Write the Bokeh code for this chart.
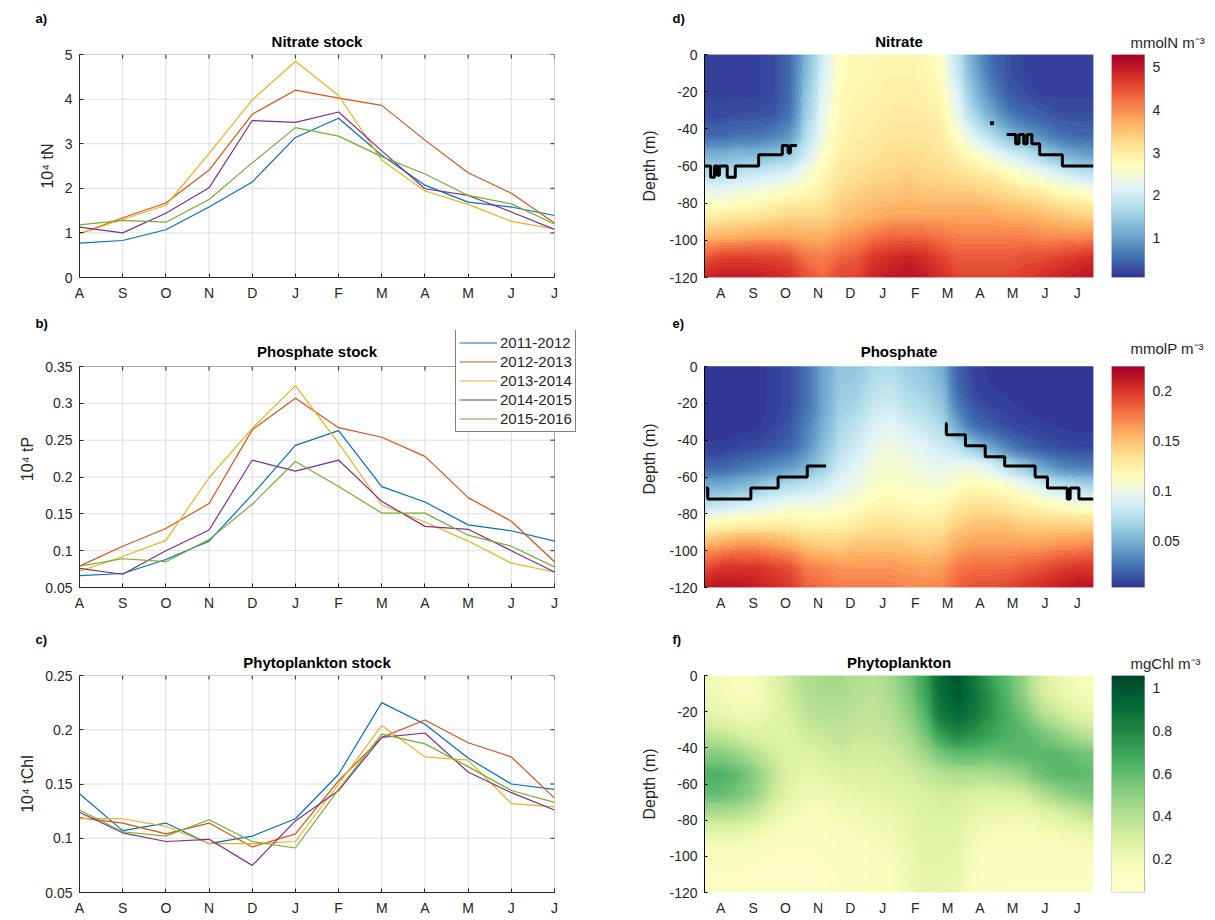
import numpy as np
from bokeh.plotting import figure
from bokeh.layouts import column, row
from bokeh.core.properties import value
from bokeh.models import (Range1d, FixedTicker, Title, Legend, LegendItem, Label, BoxAnnotation,
                          LinearColorMapper, NumeralTickFormatter)
from bokeh.embed import file_html
from bokeh.resources import INLINE

# ---------------- data ----------------
months = ["A", "S", "O", "N", "D", "J", "F", "M", "A", "M", "J", "J"]
seasons = ["2011-2012", "2012-2013", "2013-2014", "2014-2015", "2015-2016"]

# Nitrate stock (10^4 tN)
no3_2011 = [0.77, 0.83, 1.07, 1.58, 2.14, 3.14, 3.57, 2.74, 2.07, 1.69, 1.58, 1.39]
no3_2012 = [0.98, 1.34, 1.67, 2.41, 3.66, 4.20, 4.02, 3.86, 3.08, 2.35, 1.89, 1.22]
no3_2013 = [0.98, 1.30, 1.62, 2.78, 3.98, 4.85, 4.08, 2.63, 1.94, 1.64, 1.26, 1.09]
no3_2014 = [1.13, 1.00, 1.44, 2.01, 3.52, 3.48, 3.71, 2.84, 1.99, 1.84, 1.47, 1.08]
no3_2015 = [1.18, 1.28, 1.24, 1.75, 2.57, 3.36, 3.17, 2.71, 2.32, 1.84, 1.65, 1.20]

# Phosphate stock (10^4 tP)
po4_2011 = [0.066, 0.069, 0.088, 0.113, 0.176, 0.243, 0.263, 0.187, 0.166, 0.135, 0.127, 0.113]
po4_2012 = [0.079, 0.106, 0.130, 0.164, 0.264, 0.307, 0.267, 0.254, 0.228, 0.172, 0.140, 0.085]
po4_2013 = [0.072, 0.092, 0.114, 0.199, 0.266, 0.324, 0.246, 0.162, 0.139, 0.113, 0.083, 0.071]
po4_2014 = [0.076, 0.068, 0.100, 0.128, 0.223, 0.208, 0.223, 0.167, 0.133, 0.129, 0.100, 0.071]
po4_2015 = [0.079, 0.089, 0.085, 0.115, 0.163, 0.221, 0.187, 0.151, 0.151, 0.121, 0.106, 0.078]

# Phytoplankton stock (10^4 tChl)
chl_2011 = [0.141, 0.107, 0.114, 0.095, 0.102, 0.118, 0.159, 0.225, 0.205, 0.174, 0.150, 0.145]
chl_2012 = [0.119, 0.114, 0.104, 0.114, 0.092, 0.104, 0.153, 0.193, 0.209, 0.188, 0.175, 0.137]
chl_2013 = [0.118, 0.118, 0.111, 0.095, 0.095, 0.097, 0.150, 0.204, 0.175, 0.172, 0.132, 0.129]
chl_2014 = [0.124, 0.105, 0.097, 0.099, 0.075, 0.116, 0.144, 0.193, 0.197, 0.161, 0.142, 0.126]
chl_2015 = [0.126, 0.106, 0.102, 0.117, 0.097, 0.091, 0.145, 0.196, 0.187, 0.166, 0.144, 0.133]

# Depth-time fields: 24 half-month columns (Aug..Jul), each 12 depth values (surface -> -120 m)
no3_field = [
    [0.2, 0.2, 0.2, 0.25, 0.5, 1.2, 1.8, 2.4, 3.0, 3.6, 4.4, 4.9],
    [0.2, 0.2, 0.2, 0.25, 0.5, 1.2, 1.8, 2.4, 3.0, 3.7, 4.6, 5.0],
    [0.2, 0.2, 0.2, 0.3, 0.6, 1.3, 1.9, 2.5, 3.1, 3.7, 4.6, 5.0],
    [0.2, 0.2, 0.2, 0.3, 0.6, 1.3, 2.0, 2.6, 3.1, 3.8, 4.6, 5.0],
    [0.25, 0.25, 0.25, 0.35, 0.7, 1.4, 2.1, 2.7, 3.2, 3.8, 4.6, 4.9],
    [0.5, 0.5, 0.5, 0.6, 0.9, 1.5, 2.2, 2.8, 3.3, 3.8, 4.5, 4.8],
    [1.2, 1.3, 1.4, 1.5, 1.7, 2.0, 2.5, 2.9, 3.3, 3.7, 4.2, 4.5],
    [2.0, 2.1, 2.2, 2.3, 2.4, 2.6, 2.8, 3.0, 3.3, 3.7, 4.1, 4.3],
    [2.7, 2.7, 2.75, 2.8, 2.85, 2.95, 3.1, 3.3, 3.5, 3.9, 4.3, 4.6],
    [2.8, 2.8, 2.85, 2.9, 2.95, 3.05, 3.2, 3.4, 3.6, 4.0, 4.4, 4.6],
    [2.8, 2.85, 2.9, 2.95, 3.0, 3.1, 3.3, 3.5, 3.7, 4.2, 4.7, 4.9],
    [2.85, 2.9, 2.95, 3.0, 3.1, 3.2, 3.3, 3.5, 3.8, 4.3, 4.8, 5.0],
    [2.85, 2.9, 2.95, 3.0, 3.1, 3.25, 3.4, 3.6, 3.8, 4.3, 4.9, 5.1],
    [2.8, 2.85, 2.9, 3.0, 3.1, 3.2, 3.3, 3.5, 3.8, 4.3, 4.8, 5.0],
    [2.6, 2.7, 2.8, 2.9, 3.0, 3.1, 3.3, 3.5, 3.8, 4.2, 4.6, 4.8],
    [1.8, 1.9, 2.1, 2.3, 2.6, 2.9, 3.2, 3.5, 3.8, 4.1, 4.4, 4.6],
    [1.0, 1.1, 1.3, 1.6, 2.1, 2.7, 3.1, 3.5, 3.8, 4.1, 4.4, 4.6],
    [0.5, 0.6, 0.8, 1.1, 1.7, 2.4, 3.0, 3.4, 3.8, 4.1, 4.4, 4.6],
    [0.3, 0.3, 0.4, 0.7, 1.3, 2.1, 2.8, 3.3, 3.7, 4.1, 4.4, 4.6],
    [0.2, 0.2, 0.3, 0.5, 1.0, 1.9, 2.6, 3.2, 3.7, 4.1, 4.5, 4.7],
    [0.2, 0.2, 0.2, 0.4, 0.8, 1.6, 2.4, 3.1, 3.6, 4.0, 4.5, 4.8],
    [0.2, 0.2, 0.2, 0.3, 0.6, 1.3, 2.2, 2.9, 3.5, 4.0, 4.6, 4.9],
    [0.2, 0.2, 0.2, 0.3, 0.5, 1.1, 2.0, 2.8, 3.4, 4.0, 4.7, 5.0],
    [0.2, 0.2, 0.2, 0.3, 0.5, 1.0, 1.9, 2.7, 3.3, 4.0, 4.8, 5.1],
]
po4_field = [
    [0.005, 0.005, 0.005, 0.005, 0.008, 0.020, 0.050, 0.080, 0.120, 0.160, 0.190, 0.210],
    [0.005, 0.005, 0.005, 0.005, 0.008, 0.020, 0.050, 0.085, 0.125, 0.165, 0.200, 0.215],
    [0.005, 0.005, 0.005, 0.005, 0.010, 0.025, 0.055, 0.090, 0.130, 0.170, 0.200, 0.215],
    [0.005, 0.005, 0.005, 0.006, 0.012, 0.030, 0.060, 0.095, 0.130, 0.170, 0.200, 0.210],
    [0.008, 0.008, 0.008, 0.010, 0.015, 0.035, 0.070, 0.100, 0.130, 0.165, 0.195, 0.205],
    [0.012, 0.012, 0.012, 0.015, 0.020, 0.040, 0.075, 0.105, 0.130, 0.160, 0.190, 0.200],
    [0.025, 0.025, 0.025, 0.030, 0.035, 0.050, 0.080, 0.105, 0.125, 0.150, 0.175, 0.185],
    [0.045, 0.045, 0.045, 0.050, 0.055, 0.065, 0.085, 0.105, 0.125, 0.145, 0.170, 0.180],
    [0.060, 0.062, 0.065, 0.070, 0.075, 0.085, 0.095, 0.110, 0.125, 0.145, 0.165, 0.175],
    [0.060, 0.065, 0.070, 0.078, 0.085, 0.093, 0.100, 0.115, 0.130, 0.150, 0.165, 0.175],
    [0.070, 0.075, 0.082, 0.090, 0.097, 0.105, 0.110, 0.120, 0.135, 0.150, 0.165, 0.175],
    [0.072, 0.078, 0.085, 0.095, 0.102, 0.108, 0.113, 0.122, 0.135, 0.150, 0.165, 0.175],
    [0.065, 0.070, 0.077, 0.088, 0.097, 0.105, 0.110, 0.120, 0.133, 0.148, 0.163, 0.172],
    [0.060, 0.065, 0.072, 0.082, 0.092, 0.100, 0.108, 0.118, 0.130, 0.145, 0.160, 0.170],
    [0.050, 0.055, 0.062, 0.072, 0.085, 0.097, 0.107, 0.120, 0.133, 0.148, 0.163, 0.172],
    [0.020, 0.022, 0.030, 0.045, 0.075, 0.100, 0.115, 0.130, 0.145, 0.160, 0.175, 0.185],
    [0.008, 0.010, 0.015, 0.025, 0.060, 0.100, 0.120, 0.135, 0.150, 0.165, 0.180, 0.190],
    [0.006, 0.007, 0.010, 0.018, 0.045, 0.090, 0.115, 0.135, 0.150, 0.165, 0.180, 0.190],
    [0.005, 0.006, 0.008, 0.012, 0.030, 0.075, 0.110, 0.130, 0.150, 0.165, 0.180, 0.195],
    [0.005, 0.005, 0.006, 0.010, 0.020, 0.060, 0.100, 0.125, 0.145, 0.165, 0.185, 0.200],
    [0.005, 0.005, 0.005, 0.008, 0.015, 0.045, 0.090, 0.120, 0.145, 0.165, 0.190, 0.205],
    [0.005, 0.005, 0.005, 0.007, 0.012, 0.035, 0.080, 0.115, 0.145, 0.170, 0.195, 0.210],
    [0.005, 0.005, 0.005, 0.006, 0.010, 0.030, 0.075, 0.110, 0.145, 0.170, 0.200, 0.215],
    [0.005, 0.005, 0.005, 0.006, 0.010, 0.030, 0.070, 0.110, 0.145, 0.175, 0.200, 0.215],
]
chl_field = [
    [0.20, 0.21, 0.26, 0.38, 0.52, 0.65, 0.60, 0.42, 0.25, 0.16, 0.12, 0.10],
    [0.18, 0.19, 0.24, 0.36, 0.52, 0.65, 0.60, 0.42, 0.25, 0.16, 0.12, 0.10],
    [0.16, 0.17, 0.21, 0.32, 0.47, 0.60, 0.55, 0.40, 0.24, 0.15, 0.12, 0.10],
    [0.18, 0.17, 0.20, 0.28, 0.40, 0.50, 0.48, 0.35, 0.22, 0.14, 0.10, 0.09],
    [0.25, 0.25, 0.25, 0.28, 0.33, 0.38, 0.35, 0.26, 0.18, 0.12, 0.09, 0.08],
    [0.35, 0.33, 0.30, 0.28, 0.27, 0.28, 0.25, 0.20, 0.15, 0.11, 0.09, 0.08],
    [0.42, 0.40, 0.37, 0.33, 0.28, 0.24, 0.21, 0.17, 0.13, 0.11, 0.09, 0.08],
    [0.45, 0.43, 0.40, 0.35, 0.30, 0.25, 0.21, 0.17, 0.14, 0.12, 0.10, 0.09],
    [0.45, 0.43, 0.40, 0.37, 0.33, 0.28, 0.23, 0.19, 0.16, 0.14, 0.12, 0.11],
    [0.42, 0.40, 0.38, 0.35, 0.32, 0.28, 0.24, 0.20, 0.17, 0.15, 0.13, 0.12],
    [0.40, 0.38, 0.37, 0.35, 0.32, 0.29, 0.25, 0.22, 0.19, 0.17, 0.15, 0.14],
    [0.45, 0.43, 0.40, 0.37, 0.33, 0.30, 0.26, 0.23, 0.20, 0.18, 0.16, 0.15],
    [0.55, 0.52, 0.48, 0.43, 0.37, 0.32, 0.28, 0.25, 0.24, 0.22, 0.21, 0.20],
    [0.70, 0.68, 0.62, 0.55, 0.45, 0.36, 0.30, 0.28, 0.27, 0.26, 0.25, 0.24],
    [0.92, 0.90, 0.85, 0.72, 0.55, 0.40, 0.32, 0.29, 0.27, 0.26, 0.25, 0.24],
    [1.00, 0.98, 0.92, 0.80, 0.60, 0.42, 0.32, 0.28, 0.26, 0.25, 0.24, 0.23],
    [0.85, 0.88, 0.85, 0.75, 0.60, 0.42, 0.30, 0.24, 0.20, 0.17, 0.15, 0.13],
    [0.70, 0.75, 0.75, 0.70, 0.58, 0.42, 0.30, 0.22, 0.18, 0.15, 0.13, 0.12],
    [0.60, 0.62, 0.65, 0.65, 0.60, 0.45, 0.30, 0.22, 0.17, 0.14, 0.12, 0.11],
    [0.45, 0.48, 0.55, 0.62, 0.62, 0.50, 0.33, 0.22, 0.17, 0.14, 0.12, 0.11],
    [0.30, 0.32, 0.42, 0.55, 0.62, 0.58, 0.42, 0.27, 0.18, 0.14, 0.12, 0.11],
    [0.22, 0.25, 0.35, 0.50, 0.62, 0.62, 0.48, 0.30, 0.20, 0.15, 0.12, 0.11],
    [0.17, 0.20, 0.28, 0.42, 0.58, 0.62, 0.52, 0.35, 0.22, 0.15, 0.12, 0.11],
    [0.15, 0.18, 0.25, 0.38, 0.55, 0.60, 0.55, 0.40, 0.25, 0.17, 0.13, 0.11],
]

# Mixed-layer depth step lines (month index, depth m)
no3_mld1_x = [-0.5, -0.31, -0.19, -0.10, -0.04, 0.20, 0.45, 1.17, 1.90, 2.08, 2.15, 2.35]
no3_mld1_y = [-60, -66, -60, -65, -60, -66, -60, -54, -49, -53, -49, -49]
no3_mld2_x = [8.82, 9.10, 9.20, 9.35, 9.45, 9.60, 9.84, 10.54, 11.5]
no3_mld2_y = [-43, -48, -43, -48, -43, -48, -54, -60, -60]
no3_mld_dot_x = [8.37]
no3_mld_dot_y = [-37]
po4_mld1_x = [-0.45, -0.40, 0.93, 1.77, 2.67, 3.25]
po4_mld1_y = [-66, -72, -66, -60, -54, -54]
po4_mld2_x = [6.93, 6.96, 7.55, 8.16, 8.76, 9.70, 10.08, 10.69, 10.78, 11.05, 11.5]
po4_mld2_y = [-31, -37, -43, -49, -54, -60, -66, -72, -66, -72, -72]

# ticks
stock_no3_ticks = [0, 1, 2, 3, 4, 5]
stock_po4_ticks = [0.05, 0.1, 0.15, 0.2, 0.25, 0.3, 0.35]
stock_chl_ticks = [0.05, 0.1, 0.15, 0.2, 0.25]
depth_ticks = [-120, -100, -80, -60, -40, -20, 0]
cb_no3_ticks = [1, 2, 3, 4, 5]
cb_no3_labels = ["1", "2", "3", "4", "5"]
cb_po4_ticks = [0.05, 0.1, 0.15, 0.2]
cb_po4_labels = ["0.05", "0.1", "0.15", "0.2"]
cb_chl_ticks = [0.2, 0.4, 0.6, 0.8, 1]
cb_chl_labels = ["0.2", "0.4", "0.6", "0.8", "1"]
cb_no3_range = (0.07, 5.3)
cb_po4_range = (0.004, 0.224)
cb_chl_range = (0.044, 1.06)

# ---------------- style / layout ----------------
FONT = "Liberation Sans"
TXT = "#262626"
GRID = "#dedede"
COLORS = ["#0072BD", "#D95319", "#EDB120", "#7E2F8E", "#77AC30"]
ROW_H = [308, 310, 300]
TOP_B = [54, 22, 57]      # row 2 frames start higher so the legend can sit above the axes box
BOT_B = [31, 31, 21]
EXT = [0, 36, 0]          # px of blank frame above the axes box (row 2 only)
LEFT_W, RIGHT_W, CB_W = 612, 499, 103
CB_BAR = 33
TICK_PX = 4


def interp_cmap(anchors, n=256):
    rgb = np.array([[int(c[i:i + 2], 16) for i in (1, 3, 5)] for c in anchors], float)
    pos = np.linspace(0, 1, len(anchors))
    t = np.linspace(0, 1, n)
    out = []
    for v in t:
        r = [np.interp(v, pos, rgb[:, k]) for k in range(3)]
        out.append("#%02x%02x%02x" % tuple(int(round(x)) for x in r))
    return out


RDYLBU = interp_cmap(["#313695", "#4575b4", "#74add1", "#abd9e9", "#e0f3f8", "#ffffbf",
                      "#fee090", "#fdae61", "#f46d43", "#d73027", "#a50026"])
YLGN = interp_cmap(["#ffffcc", "#f7fcb9", "#d9f0a3", "#addd8e", "#78c679", "#41ab5d",
                    "#238443", "#006837", "#004529"])


def style_letter(p, offset, standoff=0):
    p.title.align = "left"
    p.title.offset = offset
    p.title.text_font = FONT
    p.title.text_font_size = "13px"
    p.title.text_font_style = "bold"
    p.title.text_color = "black"
    p.title.standoff = standoff


def add_main_title(p, i, text, x_center, y_top, px_unit):
    if EXT[i] == 0:
        p.add_layout(Title(text=text, align="center", text_font=FONT, text_font_size="15px",
                           text_font_style="bold", text_color="black", standoff=10), "above")
    else:
        p.add_layout(Label(x=x_center, y=y_top + 15 * px_unit, text=text, text_align="center",
                           text_baseline="middle", text_font=FONT, text_font_size="15px",
                           text_font_style="bold", text_color="black"))


def style_axes(p):
    for ax in p.axis:
        ax.axis_line_color = TXT
        ax.major_tick_line_color = TXT
        ax.major_tick_in = TICK_PX
        ax.major_tick_out = 0
        ax.minor_tick_line_color = None
        ax.major_label_text_font = FONT
        ax.major_label_text_font_size = "14px"
        ax.major_label_text_color = TXT
        ax.major_label_standoff = 7
        ax.axis_label_text_font = FONT
        ax.axis_label_text_font_size = "16px"
        ax.axis_label_text_font_style = "normal"
        ax.axis_label_text_color = TXT
        ax.axis_label_standoff = 6


def stock_panel(i, title, letter, ylabel, yr, yticks, series, right_ext=0):
    frame_h = ROW_H[i] - TOP_B[i] - BOT_B[i]
    box_h = frame_h - EXT[i]
    px_y = (yr[1] - yr[0]) / box_h
    px_x = 11.0 / 475.0
    y_top = yr[1] + EXT[i] * px_y
    x_right = 11 + right_ext * px_x
    p = figure(width=LEFT_W, height=ROW_H[i], x_range=Range1d(0, x_right),
               y_range=Range1d(yr[0], y_top), output_backend="svg", toolbar_location=None,
               title=letter, min_border_left=79, min_border_right=LEFT_W - 79 - 475 - right_ext,
               min_border_top=TOP_B[i], min_border_bottom=BOT_B[i])
    style_letter(p, -44)
    add_main_title(p, i, title, 5.5, yr[1], px_y)
    p.outline_line_color = None
    p.grid.visible = False
    x = list(range(len(months)))
    nx, ny = len(x), len(yticks)
    # grid lines
    p.segment(x0=x, y0=[yr[0]] * nx, x1=x, y1=[yr[1]] * nx, line_color=GRID, line_width=1)
    p.segment(x0=[0] * ny, y0=yticks, x1=[11] * ny, y1=yticks, line_color=GRID, line_width=1)
    # box and inward ticks on the top and right edges
    p.add_layout(BoxAnnotation(left=0, right=11, bottom=yr[0], top=yr[1], fill_color=None,
                               fill_alpha=0, line_color=TXT, line_width=1))
    p.segment(x0=x, y0=[yr[1]] * nx, x1=x, y1=[yr[1] - TICK_PX * px_y] * nx,
              line_color=TXT, line_width=1)
    p.segment(x0=[11] * ny, y0=yticks, x1=[11 - TICK_PX * px_x] * ny, y1=yticks,
              line_color=TXT, line_width=1)
    rends = []
    for vals, col in zip(series, COLORS):
        rends.append(p.line(x, vals, line_color=col, line_width=1.2))
    p.xaxis.ticker = FixedTicker(ticks=x)
    p.xaxis.major_label_overrides = {k: m for k, m in zip(x, months)}
    p.xaxis.bounds = (0, 11)
    p.yaxis.ticker = FixedTicker(ticks=yticks)
    p.yaxis.formatter = NumeralTickFormatter(format="0.[00]")
    p.yaxis.bounds = yr
    p.yaxis.axis_label = ylabel
    style_axes(p)
    return p, rends


def field_panel(i, title, letter, field, cmap, crange, mld=None):
    frame_h = ROW_H[i] - TOP_B[i] - BOT_B[i]
    box_h = frame_h - EXT[i]
    px_y = 120.0 / box_h
    y_top = EXT[i] * px_y
    p = figure(width=RIGHT_W, height=ROW_H[i], x_range=Range1d(-0.5, 11.5),
               y_range=Range1d(-120, y_top), output_backend="svg", toolbar_location=None,
               title=letter, min_border_left=92, min_border_right=18,
               min_border_top=TOP_B[i], min_border_bottom=BOT_B[i])
    style_letter(p, -32)
    add_main_title(p, i, title, 5.5, 0, px_y)
    p.outline_line_color = None
    z = np.flipud(np.array(field, float).T)          # rows from -120 m upward
    mapper = LinearColorMapper(palette=cmap, low=crange[0], high=crange[1])
    p.image(image=[z], x=-0.5, y=-120, dw=12, dh=120, color_mapper=mapper)
    gx = np.linspace(-0.5, 11.5, z.shape[1])
    gy = np.linspace(-120, 0, z.shape[0])
    nb = 72
    levels = np.linspace(crange[0], crange[1], nb + 1)
    fills = [cmap[min(len(cmap) - 1, int((k + 0.5) / nb * len(cmap)))] for k in range(nb)]
    p.contour(gx, gy, z, levels, fill_color=fills, line_color=None)
    if mld is not None:
        for xs, ys in mld:
            p.step(xs, ys, mode="after", line_color="black", line_width=3)
    x = list(range(len(months)))
    p.xaxis.ticker = FixedTicker(ticks=x)
    p.xaxis.major_label_overrides = {k: m for k, m in zip(x, months)}
    p.yaxis.ticker = FixedTicker(ticks=depth_ticks)
    p.yaxis.formatter = NumeralTickFormatter(format="0")
    p.yaxis.bounds = (-120, 0)
    p.yaxis.axis_label = "Depth (m)"
    style_axes(p)
    p.xaxis.axis_line_color = None
    p.xaxis.major_tick_line_color = None
    p.yaxis.axis_line_color = "black"
    p.yaxis.major_tick_line_color = "black"
    p.yaxis.major_tick_in = 3
    p.yaxis.axis_label_standoff = 8
    p.grid.visible = False
    return p


def colorbar_panel(i, label, cmap, crange, ticks, tick_labels):
    frame_h = ROW_H[i] - TOP_B[i] - BOT_B[i]
    bar_h = frame_h - EXT[i]
    span = crange[1] - crange[0]
    px_y = span / bar_h
    p = figure(width=CB_W, height=ROW_H[i], x_range=Range1d(0, CB_W / CB_BAR),
               y_range=Range1d(crange[0], crange[1] + EXT[i] * px_y),
               output_backend="svg", toolbar_location=None, x_axis_location=None,
               y_axis_location=None, min_border_left=0, min_border_right=0,
               min_border_top=TOP_B[i], min_border_bottom=BOT_B[i])
    mapper = LinearColorMapper(palette=cmap, low=crange[0], high=crange[1])
    grad = np.linspace(crange[0], crange[1], 256).reshape(256, 1)
    p.image(image=[grad], x=0, y=crange[0], dw=1, dh=span, color_mapper=mapper)
    p.add_layout(BoxAnnotation(left=0, right=1, bottom=crange[0], top=crange[1], fill_color=None,
                               fill_alpha=0, line_color=TXT, line_width=1))
    p.text(x=[1 + 8 / CB_BAR] * len(ticks), y=ticks, text=tick_labels, text_align="left",
           text_baseline="middle", text_font=value(FONT), text_font_size="14px", text_color=TXT)
    p.outline_line_color = None
    p.grid.visible = False
    if EXT[i] == 0:
        p.add_layout(Title(text=label, align="left", offset=19, text_font=FONT,
                           text_font_size="15px", text_font_style="normal", text_color=TXT,
                           standoff=7), "above")
    else:
        p.add_layout(Label(x=19 / CB_BAR, y=crange[1] + 18 * px_y, text=label, text_align="left",
                           text_baseline="middle", text_font=FONT, text_font_size="15px",
                           text_color=TXT))
    return p


pa, _ = stock_panel(0, "Nitrate stock", "a)", "10⁴ tN", (0, 5), stock_no3_ticks,
                    [no3_2011, no3_2012, no3_2013, no3_2014, no3_2015])
pb, rb = stock_panel(1, "Phosphate stock", "b)", "10⁴ tP", (0.05, 0.35), stock_po4_ticks,
                     [po4_2011, po4_2012, po4_2013, po4_2014, po4_2015], right_ext=28)
pc, _ = stock_panel(2, "Phytoplankton stock", "c)", "10⁴ tChl", (0.05, 0.25), stock_chl_ticks,
                    [chl_2011, chl_2012, chl_2013, chl_2014, chl_2015])

legend = Legend(items=[LegendItem(label=s, renderers=[r]) for s, r in zip(seasons, rb)],
                location=(376, 155), border_line_color="black", border_line_width=1,
                background_fill_color="white", background_fill_alpha=1,
                label_text_font=FONT, label_text_font_size="15px", label_text_color=TXT,
                glyph_width=38, glyph_height=19, label_height=19, spacing=0,
                label_standoff=3, padding=3, margin=0)
pb.add_layout(legend, "center")

pd = field_panel(0, "Nitrate", "d)", no3_field, RDYLBU, cb_no3_range,
                 mld=[(no3_mld1_x, no3_mld1_y), (no3_mld2_x, no3_mld2_y)])
pd.scatter(no3_mld_dot_x, no3_mld_dot_y, size=3, color="black", marker="square")
pe = field_panel(1, "Phosphate", "e)", po4_field, RDYLBU, cb_po4_range,
                 mld=[(po4_mld1_x, po4_mld1_y), (po4_mld2_x, po4_mld2_y)])
pf = field_panel(2, "Phytoplankton", "f)", chl_field, YLGN, cb_chl_range)

cd = colorbar_panel(0, "mmolN m⁻³", RDYLBU, cb_no3_range, cb_no3_ticks, cb_no3_labels)
ce = colorbar_panel(1, "mmolP m⁻³", RDYLBU, cb_po4_range, cb_po4_ticks, cb_po4_labels)
cf = colorbar_panel(2, "mgChl m⁻³", YLGN, cb_chl_range, cb_chl_ticks, cb_chl_labels)

lay = column(row(pa, pd, cd), row(pb, pe, ce), row(pc, pf, cf))
open("out.html", "w").write(file_html(lay, INLINE))
